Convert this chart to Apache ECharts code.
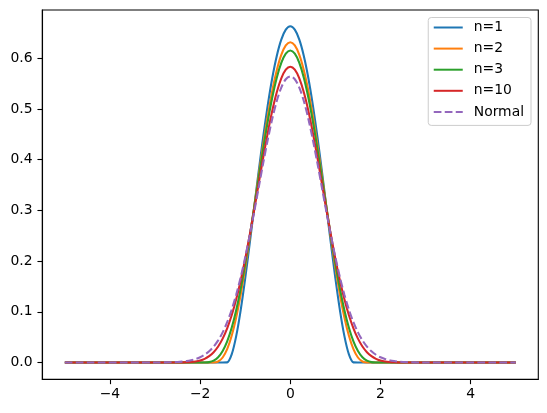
<!DOCTYPE html>
<html>
<head>
<meta charset="utf-8">
<script src="https://cdn.jsdelivr.net/npm/echarts@6/dist/echarts.min.js"></script>
<style>
html,body{margin:0;padding:0;background:#fff;}
#chart{width:547px;height:413px;}
</style>
</head>
<body>
<div id="chart"></div>
<script>
// x positions of the sampled points
const xs = [-5,
  -3.0,-2.9,-2.8,-2.7,-2.6,-2.5,-2.4,-2.3,-2.2,-2.1,
  -2.0,-1.9,-1.8,-1.7,-1.6,-1.5,-1.4,-1.3,-1.2,-1.1,
  -1.0,-0.9,-0.8,-0.7,-0.6,-0.5,-0.4,-0.3,-0.2,-0.1,
  0.0,
  0.1,0.2,0.3,0.4,0.5,0.6,0.7,0.8,0.9,1.0,
  1.1,1.2,1.3,1.4,1.5,1.6,1.7,1.8,1.9,2.0,
  2.1,2.2,2.3,2.4,2.5,2.6,2.7,2.8,2.9,3.0,
  5];

const n1 = [0,
  0,0,0,0,0,0,0,0,0,0,
  0,0,0,0,0,0,0.0003,0.0159,0.0520,0.1034,
  0.1657,0.2347,0.3065,0.3779,0.4457,0.5075,0.5611,0.6046,0.6367,0.6563,
  0.6629,
  0.6563,0.6367,0.6046,0.5611,0.5075,0.4457,0.3779,0.3065,0.2347,0.1657,
  0.1034,0.0520,0.0159,0.0003,0,0,0,0,0,0,
  0,0,0,0,0,0,0,0,0,0,
  0];

const n2 = [0,
  0,0,0,0,0,0,0,0,0,0,
  0,0,0,0.0000,0.0020,0.0099,0.0263,0.0526,0.0888,0.1341,
  0.1871,0.2457,0.3074,0.3698,0.4303,0.4864,0.5357,0.5763,0.6066,0.6252,
  0.6315,
  0.6252,0.6066,0.5763,0.5357,0.4864,0.4303,0.3698,0.3074,0.2457,0.1871,
  0.1341,0.0888,0.0526,0.0263,0.0099,0.0020,0.0000,0,0,0,
  0,0,0,0,0,0,0,0,0,0,
  0];

const n3 = [0,
  0,0,0,0,0,0,0,0,0,0,
  0,0.0001,0.0008,0.0036,0.0103,0.0225,0.0416,0.0684,0.1032,0.1456,
  0.1947,0.2489,0.3063,0.3648,0.4219,0.4752,0.5225,0.5617,0.5910,0.6091,
  0.6152,
  0.6091,0.5910,0.5617,0.5225,0.4752,0.4219,0.3648,0.3063,0.2489,0.1947,
  0.1456,0.1032,0.0684,0.0416,0.0225,0.0103,0.0036,0.0008,0.0001,0,
  0,0,0,0,0,0,0,0,0,0,
  0];

const n10 = [0,
  0,0,0,0,0,0.0001,0.0002,0.0004,0.0010,0.0021,
  0.0040,0.0073,0.0126,0.0204,0.0316,0.0471,0.0674,0.0931,0.1246,0.1618,
  0.2044,0.2514,0.3016,0.3533,0.4044,0.4529,0.4964,0.5328,0.5603,0.5774,
  0.5832,
  0.5774,0.5603,0.5328,0.4964,0.4529,0.4044,0.3533,0.3016,0.2514,0.2044,
  0.1618,0.1246,0.0931,0.0674,0.0471,0.0316,0.0204,0.0126,0.0073,0.0040,
  0.0021,0.0010,0.0004,0.0002,0.0001,0,0,0,0,0,
  0];

const normal = [0,
  0.0001,0.0001,0.0002,0.0004,0.0007,0.0011,0.0018,0.0028,0.0045,0.0069,
  0.0103,0.0153,0.0221,0.0314,0.0436,0.0595,0.0795,0.1041,0.1337,0.1682,
  0.2076,0.2510,0.2975,0.3456,0.3936,0.4394,0.4808,0.5156,0.5421,0.5586,
  0.5642,
  0.5586,0.5421,0.5156,0.4808,0.4394,0.3936,0.3456,0.2975,0.2510,0.2076,
  0.1682,0.1337,0.1041,0.0795,0.0595,0.0436,0.0314,0.0221,0.0153,0.0103,
  0.0069,0.0045,0.0028,0.0018,0.0011,0.0007,0.0004,0.0002,0.0001,0.0001,
  0];

const seriesNames = ['n=1','n=2','n=3','n=10','Normal'];
const seriesValues = [n1, n2, n3, n10, normal];
const seriesColors = ['#1f77b4','#ff7f0e','#2ca02c','#d62728','#9467bd'];
const xTicks = [-4,-2,0,2,4];
const yTicks = [0,0.1,0.2,0.3,0.4,0.5,0.6];

const FONT = 'DejaVu Sans';
const FS = 13.9;

const chart = echarts.init(document.getElementById('chart'), null, {renderer:'canvas'});
const series = seriesNames.map((name, k) => ({
  name: name,
  type: 'line',
  data: xs.map((x, i) => [x, seriesValues[k][i]]),
  showSymbol: false,
  symbol: 'none',
  smooth: 0.3,
  lineStyle: {
    color: seriesColors[k],
    width: 2.08,
    type: name === 'Normal' ? [7.7, 3.3] : 'solid'
  },
  itemStyle: {color: seriesColors[k]},
  emphasis: {disabled: true},
  animation: false
}));

chart.setOption({
  animation: false,
  backgroundColor: '#fff',
  textStyle: {fontFamily: FONT},
  grid: {
    left: 42.3, top: 10, width: 496, height: 369.3,
    show: true, borderColor: '#000', borderWidth: 1.1, backgroundColor: 'transparent',
    containLabel: false
  },
  legend: {
    data: seriesNames,
    orient: 'vertical',
    right: 16, top: 17.5,
    itemWidth: 29, itemHeight: 14, itemGap: 7.1,
    padding: [3, 7, 6.5, 4.5],
    backgroundColor: 'rgba(255,255,255,0.8)',
    borderColor: '#cccccc', borderWidth: 1, borderRadius: 3,
    itemStyle: {opacity: 0},
    textStyle: {fontFamily: FONT, fontSize: FS, color: '#000', padding: [0,0,0,6]}
  },
  xAxis: {
    type: 'value', min: -5.5, max: 5.5,
    axisLine: {show: true, onZero: false, lineStyle: {color: '#000', width: 1.1}},
    axisTick: {show: true, inside: false, length: 4.86, customValues: xTicks, lineStyle: {color: '#000', width: 1.1}},
    axisLabel: {
      show: true, margin: 8.5, customValues: xTicks, color: '#000',
      fontFamily: FONT, fontSize: FS,
      formatter: v => String(v).replace('-', '\u2212')
    },
    splitLine: {show: false}
  },
  yAxis: {
    type: 'value', min: -0.0331, max: 0.6951,
    axisLine: {show: true, onZero: false, lineStyle: {color: '#000', width: 1.1}},
    axisTick: {show: true, inside: false, length: 4.86, customValues: yTicks, lineStyle: {color: '#000', width: 1.1}},
    axisLabel: {
      show: true, margin: 9.7, customValues: yTicks, color: '#000',
      fontFamily: FONT, fontSize: FS,
      formatter: v => Number(v).toFixed(1)
    },
    splitLine: {show: false}
  },
  series: series
});
</script>
</body>
</html>
